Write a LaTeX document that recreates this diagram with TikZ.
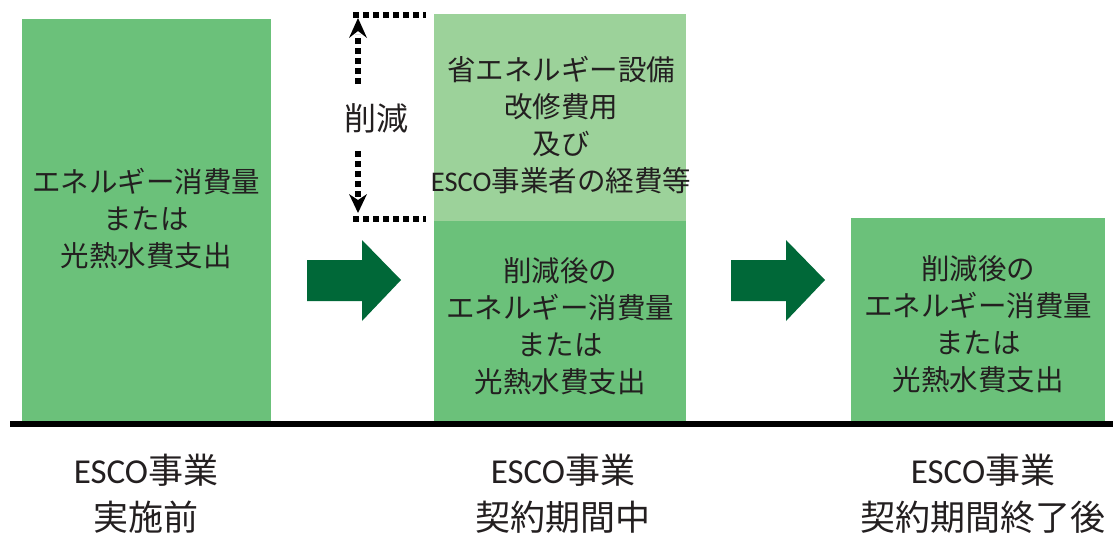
\documentclass[tikz,border=0pt]{standalone}
\usepackage{fontspec}
\setmainfont{Noto Sans CJK JP}
\newfontfamily\lat{Carlito}
\usetikzlibrary{arrows.meta}
\definecolor{midgreen}{RGB}{107,193,122}
\definecolor{lightgreen}{RGB}{156,210,154}
\definecolor{darkgreen}{RGB}{0,104,56}
\definecolor{txt}{RGB}{35,31,32}
\tikzset{
  bar/.style={fill=midgreen, draw=none},
  lbar/.style={fill=lightgreen, draw=none},
  lbl/.style={align=center, text=txt, font=\fontsize{28.5}{37}\selectfont, inner sep=0pt},
  caption/.style={align=center, text=txt, font=\fontsize{35}{47}\selectfont, inner sep=0pt},
  bigarrow/.style={fill=darkgreen, draw=none},
  dotline/.style={line width=5.5pt, dash pattern=on 6pt off 4pt, black},
  tiphead/.style={fill=black, draw=none},
}
\begin{document}
\begin{tikzpicture}[x=1pt,y=-1pt]
\useasboundingbox (0,0) rectangle (1113,533);
% bars
\fill[bar] (22,19) rectangle (271,421);
\fill[lbar] (434,14) rectangle (686,221);
\fill[bar] (434,221) rectangle (686,421);
\fill[bar] (851,218) rectangle (1105,421);
% baseline
\coordinate (bl) at (10,424);
\coordinate (br) at (1113,424);
\draw[line width=6pt] (bl) -- (br);
% big arrows
\fill[bigarrow] (307,260) -- (362,260) -- (362,240) -- (401,280) -- (362,321) -- (362,301) -- (307,301) -- cycle;
\fill[bigarrow] (731,260) -- (786,260) -- (786,240) -- (825,280) -- (786,321) -- (786,301) -- (731,301) -- cycle;
% dotted reduction marker
\coordinate (t1) at (353,15);
\coordinate (t2) at (426,15);
\coordinate (b1) at (353,219);
\coordinate (b2) at (426,219);
\coordinate (vt) at (358,18);
\coordinate (vtm) at (358,84);
\coordinate (vb) at (358,213);
\coordinate (vbm) at (358,151);
\draw[dotline] (t1) -- (t2);
\draw[dotline] (b1) -- (b2);
\draw[dotline] (vtm) -- (358,34);
\draw[dotline] (vbm) -- (358,199);
\fill[tiphead] (vt) -- (367,38) -- (358,31) -- (349,38) -- cycle;
\fill[tiphead] (vb) -- (367,194) -- (358,200) -- (349,194) -- cycle;
\node[lbl, font=\fontsize{32}{37}\selectfont] (cut) at (376,118) {削減};
% box texts
\node[lbl] (t1box) at (146,219) {エネルギー消費量\\または\\光熱水費支出};
\node[lbl] (t2up) at (561,125) {省エネルギー設備\\改修費用\\及び\\{\lat ESCO}事業者の経費等};
\node[lbl] (t2lo) at (560,326) {削減後の\\エネルギー消費量\\または\\光熱水費支出};
\node[lbl] (t3) at (978,324) {削減後の\\エネルギー消費量\\または\\光熱水費支出};
% bottom labels
\node[caption] (c1) at (146,494) {{\lat ESCO}事業\\実施前};
\node[caption] (c2) at (563,494) {{\lat ESCO}事業\\契約期間中};
\node[caption] (c3) at (983,494) {{\lat ESCO}事業\\契約期間終了後};
\end{tikzpicture}
\end{document}
